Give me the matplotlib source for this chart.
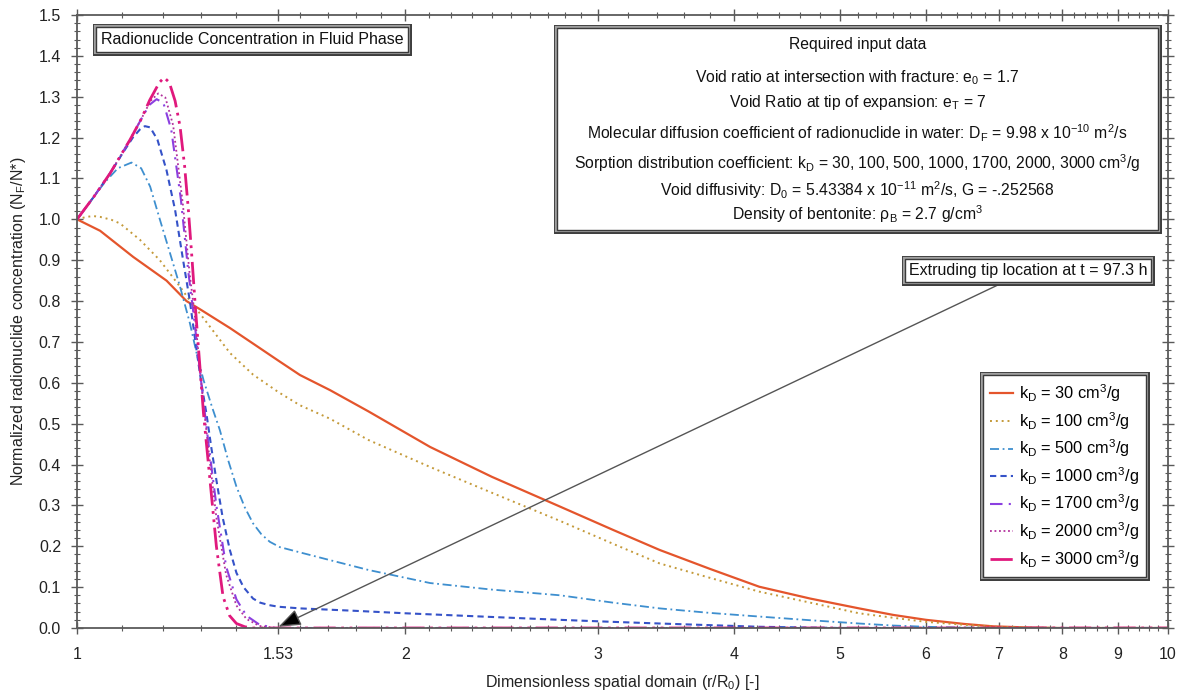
import matplotlib
matplotlib.use("Agg")
import matplotlib.pyplot as plt
import matplotlib.patheffects as pe
from matplotlib.patches import Rectangle
from matplotlib.ticker import FixedLocator, FixedFormatter, MultipleLocator, FormatStrFormatter
import numpy as np

plt.rcParams['font.family'] = ['Liberation Sans', 'DejaVu Sans']
plt.rcParams['mathtext.fontset'] = 'custom'
plt.rcParams['mathtext.rm'] = 'Liberation Sans'
plt.rcParams['mathtext.it'] = 'Liberation Sans'
plt.rcParams['mathtext.bf'] = 'Liberation Sans:bold'

# ---------------- data ----------------
kd30_x = [1.0, 1.05, 1.126, 1.208, 1.26, 1.3, 1.381, 1.45, 1.53, 1.601, 1.706, 1.85, 2.107, 2.4, 2.772,
          3.1, 3.42, 3.8, 4.22, 4.7, 5.21, 5.6, 6.0, 6.5, 6.92, 7.5, 8.0, 10.0]
kd30_y = [1.0, 0.972, 0.908, 0.850, 0.80, 0.778, 0.734, 0.696, 0.654, 0.619, 0.582, 0.53, 0.443, 0.37, 0.297,
          0.24, 0.191, 0.145, 0.101, 0.072, 0.048, 0.032, 0.02, 0.01, 0.004, 0.001, 0.0, 0.0]

kd100_x = [1.0, 1.02, 1.035, 1.05, 1.075, 1.095, 1.142, 1.191, 1.243, 1.27, 1.3, 1.381, 1.45, 1.53, 1.601,
           1.706, 1.85, 2.107, 2.4, 2.772, 3.1, 3.42, 3.8, 4.22, 4.7, 5.21, 5.6, 6.0, 6.5, 6.92, 7.5, 8.0, 10.0]
kd100_y = [1.0, 1.006, 1.008, 1.006, 0.999, 0.99, 0.95, 0.9, 0.835, 0.80, 0.765, 0.673, 0.62, 0.577, 0.545,
           0.512, 0.46, 0.394, 0.331, 0.262, 0.206, 0.158, 0.123, 0.089, 0.062, 0.036, 0.025, 0.015, 0.008, 0.003,
           0.001, 0.0, 0.0]

kd500_x = [1.0, 1.036, 1.06, 1.09, 1.122, 1.145, 1.167, 1.191, 1.217, 1.243, 1.269, 1.287, 1.306, 1.33, 1.352,
           1.376, 1.4, 1.425, 1.45, 1.475, 1.502, 1.534, 1.601, 1.706, 1.85, 2.107, 2.4, 2.772, 3.1, 3.42, 3.8,
           4.22, 4.7, 5.21, 5.6, 6.0, 6.5, 7.0, 10.0]
kd500_y = [1.0, 1.055, 1.09, 1.125, 1.139, 1.125, 1.08, 1.0, 0.917, 0.835, 0.746, 0.673, 0.607, 0.54, 0.484,
           0.41, 0.346, 0.295, 0.256, 0.23, 0.211, 0.198, 0.185, 0.166, 0.142, 0.11, 0.094, 0.08, 0.062, 0.048,
           0.037, 0.028, 0.019, 0.011, 0.006, 0.003, 0.001, 0.0, 0.0]

kd1000_x = [1.0, 1.036, 1.072, 1.1, 1.125, 1.142, 1.154, 1.167, 1.185, 1.208, 1.23, 1.251, 1.269, 1.287, 1.3,
            1.314, 1.328, 1.342, 1.36, 1.381, 1.4, 1.421, 1.45, 1.472, 1.5, 1.53, 1.601, 1.8, 2.0, 2.4, 2.77,
            3.1, 3.42, 3.8, 4.22, 5.0, 10.0]
kd1000_y = [1.0, 1.055, 1.112, 1.16, 1.2, 1.22, 1.228, 1.225, 1.195, 1.12, 1.023, 0.9, 0.8, 0.68, 0.6,
            0.525, 0.44, 0.362, 0.27, 0.19, 0.135, 0.1, 0.072, 0.062, 0.056, 0.052, 0.048, 0.042, 0.036, 0.027,
            0.02, 0.015, 0.011, 0.007, 0.003, 0.0, 0.0]

kd1700_x = [1.0, 1.036, 1.072, 1.118, 1.145, 1.165, 1.183, 1.2, 1.22, 1.245, 1.265, 1.28, 1.3, 1.32, 1.342,
            1.37, 1.4, 1.43, 1.47, 1.52, 10.0]
kd1700_y = [1.0, 1.055, 1.112, 1.194, 1.245, 1.28, 1.294, 1.285, 1.22, 1.05, 0.87, 0.76, 0.6, 0.45, 0.3,
            0.15, 0.07, 0.03, 0.008, 0.0, 0.0]

kd2000_x = [1.0, 1.036, 1.072, 1.118, 1.145, 1.168, 1.187, 1.205, 1.225, 1.25, 1.268, 1.283, 1.302, 1.322,
            1.342, 1.37, 1.4, 1.43, 1.47, 1.52, 10.0]
kd2000_y = [1.0, 1.055, 1.112, 1.194, 1.245, 1.29, 1.308, 1.298, 1.23, 1.04, 0.87, 0.76, 0.58, 0.42,
            0.27, 0.13, 0.055, 0.022, 0.005, 0.0, 0.0]

kd3000_x = [1.0, 1.036, 1.072, 1.118, 1.145, 1.166, 1.19, 1.202, 1.215, 1.23, 1.243, 1.255, 1.265, 1.275,
            1.283, 1.292, 1.306, 1.324, 1.342, 1.361, 1.38, 1.4, 1.425, 1.45, 10.0]
kd3000_y = [1.0, 1.055, 1.112, 1.194, 1.245, 1.292, 1.335, 1.347, 1.335, 1.29, 1.227, 1.13, 1.023, 0.9,
            0.795, 0.688, 0.525, 0.362, 0.2, 0.077, 0.03, 0.011, 0.003, 0.0, 0.0]

series_labels = ["30", "100", "500", "1000", "1700", "2000", "3000"]

x_major = [1, 1.53, 2, 3, 4, 5, 6, 7, 8, 9, 10]
x_major_labels = ["1", "1.53", "2", "3", "4", "5", "6", "7", "8", "9", "10"]

# ---------------- figure ----------------
fig = plt.figure(figsize=(11.88, 6.95), dpi=100)
ax = fig.add_axes([77/1188, 1-628/695, (1168-77)/1188, (628-15)/695])

series = [
    (kd30_x, kd30_y, dict(color='#E4552C', lw=1.6, ls='-')),
    (kd100_x, kd100_y, dict(color='#C49A3A', lw=1.4, ls=(0, (1, 2)))),
    (kd500_x, kd500_y, dict(color='#3E8FCF', lw=1.3, ls=(0, (5, 2, 1, 2)))),
    (kd1000_x, kd1000_y, dict(color='#3552C8', lw=1.5, ls=(0, (3, 2)))),
    (kd1700_x, kd1700_y, dict(color='#8B3FE0', lw=1.5, ls=(0, (6, 3, 1, 3)))),
    (kd2000_x, kd2000_y, dict(color='#B2309C', lw=1.3, ls=(0, (1, 1.5)))),
    (kd3000_x, kd3000_y, dict(color='#E0197D', lw=2.0, ls=(0, (8, 2, 1, 2, 1, 2)))),
]
for (xs, ys, st), lab in zip(series, series_labels):
    ax.plot(xs, ys, label=r"k$_\mathrm{D}$ = " + lab + r" cm$^3$/g", **st)

ax.set_xscale('log')
ax.set_xlim(1, 10)
ax.set_ylim(0, 1.5)

minor_x = [round(v, 2) for v in np.arange(1.1, 3.0, 0.1) if abs(v - 1.5) > 0.01 and abs(v - 2.0) > 0.01]
minor_x += [round(v, 2) for v in np.arange(3.2, 10.0, 0.2) if abs(v - round(v)) > 0.01]
ax.xaxis.set_major_locator(FixedLocator(x_major))
ax.xaxis.set_major_formatter(FixedFormatter(x_major_labels))
ax.xaxis.set_minor_locator(FixedLocator(minor_x))
ax.xaxis.set_minor_formatter(FixedFormatter([]))
ax.yaxis.set_major_locator(MultipleLocator(0.1))
ax.yaxis.set_minor_locator(MultipleLocator(0.02))
ax.yaxis.set_major_formatter(FormatStrFormatter('%.1f'))

spine_c = '#5a5a5a'
for s in ax.spines.values():
    s.set_color(spine_c)
    s.set_linewidth(1.3)
ax.tick_params(which='major', direction='inout', length=9, width=1.0, color=spine_c,
               top=True, right=True, labelsize=11.5, labelcolor='#222222')
ax.tick_params(which='minor', direction='inout', length=5, width=0.8, color=spine_c,
               top=True, right=True)
ax.tick_params(axis='x', which='major', pad=9)
ax.tick_params(axis='y', which='major', pad=7)

ax.set_xlabel(r"Dimensionless spatial domain (r/R$_0$) [-]", fontsize=11.5, color='#222222', labelpad=8)
ax.set_ylabel(r"Normalized radionuclide concentration (N$_F$/N*)", fontsize=11.5, color='#222222', labelpad=8)

frame_pe = [pe.Stroke(linewidth=5, foreground='#3a3a3a'),
            pe.Stroke(linewidth=3, foreground='#a0a0a0'),
            pe.Normal()]

# title box
t = ax.text(0.1604, 0.960, "Radionuclide Concentration in Fluid Phase", transform=ax.transAxes,
            ha='center', va='center', fontsize=11.5, color='#111111',
            bbox=dict(boxstyle='square,pad=0.3', fc='white', ec='#3a3a3a', lw=1))
t.get_bbox_patch().set_path_effects(frame_pe)

# input data box
rect = Rectangle((0.4397, 0.6493), 0.9908 - 0.4397, 0.9788 - 0.6493, transform=ax.transAxes,
                 fc='white', ec='#3a3a3a', lw=1, zorder=5)
rect.set_path_effects(frame_pe)
ax.add_patch(rect)
cx = 0.7152
info_lines = [
    ("Required input data", 45),
    (r"Void ratio at intersection with fracture: e$_0$ = 1.7", 78),
    (r"Void Ratio at tip of expansion: e$_\mathrm{T}$ = 7", 103),
    (r"Molecular diffusion coefficient of radionuclide in water: D$_\mathrm{F}$ = 9.98 x 10$^{-10}$ m$^2$/s", 133),
    (r"Sorption distribution coefficient: k$_\mathrm{D}$ = 30, 100, 500, 1000, 1700, 2000, 3000 cm$^3$/g", 163),
    (r"Void diffusivity: D$_0$ = 5.43384 x 10$^{-11}$ m$^2$/s, G = -.252568", 190),
    (r"Density of bentonite: ρ$_\mathrm{B}$ = 2.7 g/cm$^3$", 214),
]
for txt, py in info_lines:
    ax.text(cx, (628 - py) / 613, txt, transform=ax.transAxes, ha='center', va='center', fontsize=11.3,
            color='#111111', zorder=6)

# annotation
ann = ax.annotate("Extruding tip location at t = 97.3 h", xy=(1.53, 0.003), xycoords='data',
                  xytext=(0.8717, 0.5829), textcoords='axes fraction', ha='center', va='center',
                  fontsize=11.5, color='#111111', zorder=6,
                  bbox=dict(boxstyle='square,pad=0.25', fc='white', ec='#3a3a3a', lw=1),
                  arrowprops=dict(arrowstyle='-|>,head_length=1.2,head_width=0.45', color='#666666',
                                  fc='black', ec='#555555', lw=1.0, shrinkA=0, shrinkB=0))
ann.get_bbox_patch().set_path_effects(frame_pe)

# legend
leg = ax.legend(loc='upper left', bbox_to_anchor=(0.830, 0.4127), fontsize=11.8, frameon=True,
                fancybox=False, handlelength=1.4, handletextpad=0.35, labelspacing=0.36,
                borderpad=0.45, borderaxespad=0)
fr = leg.get_frame()
fr.set_edgecolor('#3a3a3a')
fr.set_linewidth(1)
fr.set_alpha(1)
fr.set_path_effects(frame_pe)
leg.set_zorder(7)

fig.savefig("out.png", dpi=100, facecolor='white')
